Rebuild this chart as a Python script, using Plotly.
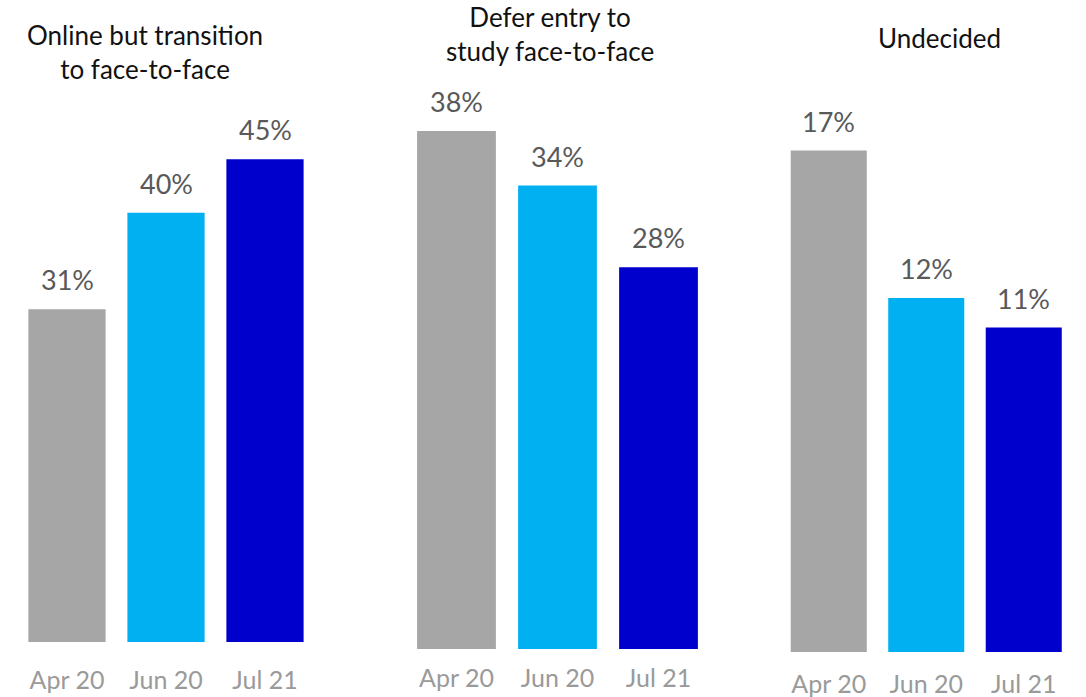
import plotly.graph_objects as go

PERIODS = ["Apr 20", "Jun 20", "Jul 21"]
COLORS = ["#A6A6A6", "#00B0F0", "#0000CC"]

TITLES = ["Online but transition<br>to face-to-face",
          "Defer entry to<br>study face-to-face",
          "Undecided"]
ONLINE_TRANSITION = [31, 40, 45]
DEFER_ENTRY = [38, 34, 28]
UNDECIDED = [17, 12, 11]
SERIES = [ONLINE_TRANSITION, DEFER_ENTRY, UNDECIDED]

W, H = 1086, 697
FONT = "Lato"

# panel geometry in pixels: x start/end, bar bottom, px per percent,
# tick label standoff, title centre
PANELS = [
    dict(x0=17.5, x1=314.5, bottom=642, ppu=10.73, standoff=21, title_x=145, title_y=52),
    dict(x0=406, x1=709, bottom=649, ppu=13.63, standoff=12, title_x=550, title_y=34),
    dict(x0=780, x1=1072.5, bottom=652, ppu=29.5, standoff=15, title_x=939, title_y=38),
]


def px(x):
    return x / W


def py(y):
    return 1 - y / H


fig = go.Figure()
annotations = []
for i, (vals, p, title) in enumerate(zip(SERIES, PANELS, TITLES)):
    n = "" if i == 0 else str(i + 1)
    fig.add_trace(go.Bar(
        x=PERIODS, y=vals, marker_color=COLORS, marker_line_width=0,
        xaxis="x" + n, yaxis="y" + n, showlegend=False, hoverinfo="skip",
    ))
    fig.update_layout({
        "xaxis" + n: dict(domain=[px(p["x0"]), px(p["x1"])], anchor="y" + n,
                          automargin=False,
                          showgrid=False, zeroline=False, showline=False, ticks="",
                          tickfont=dict(size=25, color="#9A9A9A", family=FONT),
                          ticklabelstandoff=p["standoff"]),
        "yaxis" + n: dict(domain=[py(p["bottom"]), 1], anchor="x" + n,
                          automargin=False,
                          range=[0, p["bottom"] / p["ppu"]], visible=False),
    })
    for period, v in zip(PERIODS, vals):
        annotations.append(dict(
            x=period, y=v, xref="x" + n, yref="y" + n, text=f"{v}%",
            showarrow=False, yanchor="bottom", yshift=11,
            font=dict(size=27, color="#595959", family=FONT),
        ))
    annotations.append(dict(
        x=px(p["title_x"]), y=py(p["title_y"]), xref="paper", yref="paper",
        text=title, showarrow=False, xanchor="center", yanchor="middle",
        font=dict(size=26, color="#111111", family=FONT),
    ))

fig.update_layout(
    width=W, height=H,
    margin=dict(l=0, r=0, t=0, b=0),
    bargap=0.22,
    plot_bgcolor="white", paper_bgcolor="white",
    annotations=annotations,
)
# drop the default 8px body margin so the figure fills the window
fig.write_html("out.html", config={"displayModeBar": False},
               post_script="document.body.style.margin = '0';")
